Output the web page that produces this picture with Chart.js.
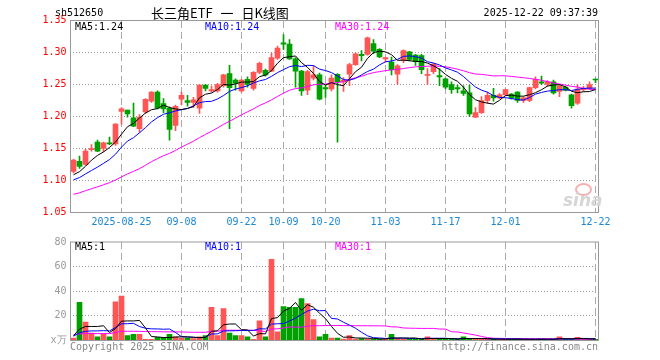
<!DOCTYPE html>
<html>
<head>
<meta charset="utf-8">
<script src="https://cdn.jsdelivr.net/npm/chart.js@4.4.1/dist/chart.umd.min.js"></script>
<style>
  body { margin: 0; background: #fff; width: 660px; height: 360px; position: relative; overflow: hidden;
         font-family: "DejaVu Sans Mono", monospace; }
  .txt { position: absolute; white-space: nowrap; font-size: 10px; line-height: 12px; }
  #priceBox { position: absolute; left: 0; top: 0; width: 660px; height: 232px; }
  #volBox { position: absolute; left: 0; top: 232px; width: 660px; height: 128px; }
</style>
</head>
<body>
<div id="priceBox"><canvas id="priceChart"></canvas></div>
<div id="volBox"><canvas id="volChart"></canvas></div>

<div class="txt" style="left:55px;top:7px;color:#000;">sh512650</div>
<div class="txt" style="left:151px;top:5px;font-size:13px;line-height:16px;word-spacing:5px;font-family:'Noto Sans CJK SC',sans-serif;color:#000;">长三角ETF 一 日K线图</div>
<div class="txt" style="right:62px;top:7px;color:#000;">2025-12-22 09:37:39</div>

<div class="txt" id="pMa5" style="left:75px;top:21px;color:#000;"></div>
<div class="txt" id="pMa10" style="left:205px;top:21px;color:#0000ff;"></div>
<div class="txt" id="pMa30" style="left:335px;top:21px;color:#ff00ff;"></div>

<div class="txt" id="vMa5" style="left:75px;top:241px;color:#000;"></div>
<div class="txt" id="vMa10" style="left:205px;top:241px;color:#0000ff;"></div>
<div class="txt" id="vMa30" style="left:335px;top:241px;color:#ff00ff;"></div>

<div style="position:absolute;left:575px;top:183px;width:13px;height:9px;border-radius:50%;border:2px solid #f3b0b0;"></div>
<div class="txt" style="left:563px;top:191px;font-size:17px;line-height:18px;font-family:'DejaVu Sans',sans-serif;font-weight:bold;font-style:italic;color:#d6d6d6;">sina</div>

<div class="txt" style="left:70px;top:341px;color:#888;">Copyright 2025 SINA.COM</div>
<div class="txt" style="right:62px;top:341px;color:#888;">http://finance.sina.com.cn</div>

<script>
// trading days shown on the chart
const dates = [
  '2025-08-13','2025-08-14','2025-08-15','2025-08-18','2025-08-19','2025-08-20','2025-08-21','2025-08-22',
  '2025-08-25','2025-08-26','2025-08-27','2025-08-28','2025-08-29',
  '2025-09-01','2025-09-02','2025-09-03','2025-09-04','2025-09-05','2025-09-08','2025-09-09','2025-09-10',
  '2025-09-11','2025-09-12','2025-09-15','2025-09-16','2025-09-17','2025-09-18','2025-09-19','2025-09-22',
  '2025-09-23','2025-09-24','2025-09-25','2025-09-26','2025-09-29','2025-09-30',
  '2025-10-09','2025-10-10','2025-10-13','2025-10-14','2025-10-15','2025-10-16','2025-10-17','2025-10-20',
  '2025-10-21','2025-10-22','2025-10-23','2025-10-24','2025-10-27','2025-10-28','2025-10-29','2025-10-30','2025-10-31',
  '2025-11-03','2025-11-04','2025-11-05','2025-11-06','2025-11-07','2025-11-10','2025-11-11','2025-11-12',
  '2025-11-13','2025-11-14','2025-11-17','2025-11-18','2025-11-19','2025-11-20','2025-11-21','2025-11-24',
  '2025-11-25','2025-11-26','2025-11-27','2025-11-28',
  '2025-12-01','2025-12-02','2025-12-03','2025-12-04','2025-12-05','2025-12-08','2025-12-09','2025-12-10',
  '2025-12-11','2025-12-12','2025-12-15','2025-12-16','2025-12-17','2025-12-18','2025-12-19','2025-12-22'
];

const tickDates = ['2025-08-25','2025-09-08','2025-09-22','2025-10-09','2025-10-20','2025-11-03','2025-11-17','2025-12-01','2025-12-22'];
const tickLabels = ['2025-08-25','09-08','09-22','10-09','10-20','11-03','11-17','12-01','12-22'];

const opens = [
  1.114,1.130,1.125,1.148,1.160,1.150,1.159,1.157,1.208,1.210,1.198,1.181,1.207,1.224,1.238,1.220,1.213,1.186,1.227,1.225,1.222,1.213,
  1.249,1.240,1.240,1.248,1.267,1.257,1.240,1.258,1.244,1.269,1.272,1.271,1.291,1.315,1.313,1.290,1.271,1.241,1.260,1.265,1.245,1.243,
  1.266,1.254,1.266,1.281,1.297,1.297,1.314,1.305,1.290,1.285,1.266,1.288,1.301,1.296,1.295,1.264,1.270,1.264,1.259,1.250,1.245,1.240,
  1.237,1.199,1.206,1.225,1.233,1.229,1.234,1.235,1.238,1.225,1.225,1.245,1.254,1.250,1.254,1.239,1.246,1.234,1.221,1.242,1.244,1.258
];
const highs = [
  1.133,1.138,1.149,1.156,1.163,1.160,1.168,1.189,1.214,1.210,1.221,1.203,1.228,1.239,1.240,1.228,1.215,1.218,1.238,1.233,1.230,1.250,
  1.250,1.248,1.252,1.266,1.280,1.259,1.258,1.262,1.270,1.285,1.274,1.299,1.310,1.328,1.320,1.292,1.272,1.272,1.279,1.268,1.249,1.265,
  1.267,1.261,1.283,1.299,1.303,1.324,1.320,1.306,1.292,1.293,1.281,1.304,1.302,1.297,1.297,1.275,1.283,1.275,1.260,1.254,1.249,1.248,
  1.249,1.214,1.231,1.238,1.244,1.236,1.243,1.236,1.239,1.231,1.246,1.262,1.263,1.256,1.257,1.249,1.247,1.235,1.250,1.247,1.254,1.259
];
const lows = [
  1.112,1.119,1.124,1.146,1.145,1.145,1.156,1.155,1.188,1.199,1.184,1.175,1.205,1.222,1.212,1.206,1.163,1.178,1.218,1.216,1.214,1.205,
  1.240,1.238,1.238,1.246,1.181,1.241,1.238,1.246,1.241,1.267,1.263,1.270,1.289,1.305,1.289,1.246,1.233,1.234,1.257,1.226,1.230,1.240,
  1.160,1.239,1.248,1.280,1.287,1.296,1.298,1.292,1.285,1.265,1.250,1.284,1.287,1.280,1.267,1.250,1.267,1.248,1.243,1.236,1.237,1.233,
  1.200,1.198,1.205,1.221,1.224,1.228,1.232,1.227,1.222,1.222,1.223,1.243,1.250,1.247,1.235,1.231,1.240,1.213,1.219,1.239,1.242,1.253
];
const closes = [
  1.132,1.122,1.146,1.150,1.146,1.159,1.157,1.188,1.212,1.204,1.185,1.199,1.227,1.238,1.213,1.212,1.180,1.216,1.233,1.222,1.226,1.249,
  1.244,1.242,1.250,1.265,1.245,1.252,1.257,1.250,1.269,1.283,1.265,1.292,1.307,1.313,1.290,1.271,1.240,1.270,1.265,1.227,1.243,1.260,
  1.254,1.257,1.281,1.298,1.295,1.323,1.302,1.293,1.292,1.273,1.279,1.303,1.289,1.286,1.273,1.266,1.282,1.262,1.246,1.242,1.243,1.236,
  1.204,1.206,1.225,1.233,1.229,1.234,1.242,1.229,1.225,1.229,1.245,1.258,1.252,1.254,1.237,1.248,1.241,1.217,1.243,1.244,1.250,1.257
];
// volume, in 10k lots
const volumes = [
  2,31,15,6,3,5,3,31.5,36,4,5,5,1,1,2.5,2.5,5,3,2,2,1.5,3,
  4,27,4,26,6,4,4,3,1,16,3,66,7,27.5,27,27,34,30,17,3,5,2,
  2,1.2,4,1.2,1.5,1.2,1.2,1.2,1.2,5,1.5,1.2,1.2,1.2,1.2,3,1.5,1.2,1.2,1.2,1.2,3,
  1.5,1.2,1,1,1.2,1,1,1,1.2,1,1,1,1.2,1,1,3,1,1,2.5,1,1,1
];
// closes and volumes of the days before the window, estimated from where the average lines start
const priorCloses = [
  1.051,1.049,1.056,1.058,1.061,1.060,1.064,1.066,1.063,1.067,1.070,1.068,1.071,1.069,1.074,
  1.076,1.075,1.080,1.082,1.084,1.086,1.090,1.095,1.094,1.100,1.098,1.104,1.102,1.109
];
const priorVolumes = [6,4,5,7,3,5,4,6,5,4,8,5,3,4,6,5,4,6,5,5,3,4,2,3,3,5,4,6,3];

const RED = '#ff5555';
const GREEN = '#00a000';

function movingAverage(series, prior, n) {
  const all = prior.concat(series);
  return series.map((_, i) => {
    const end = prior.length + i + 1;
    const win = all.slice(end - n, end);
    return win.reduce((a, b) => a + b, 0) / n;
  });
}

const candleColors = closes.map((c, i) => c >= opens[i] ? RED : GREEN);
const tickIndex = tickDates.map(d => dates.indexOf(d));

function dateTick(value, index) {
  const k = tickIndex.indexOf(index);
  return k >= 0 ? tickLabels[k] : '';
}

// dotted value lines and dashed date lines, placed with the chart's scales
const panelGrid = {
  id: 'panelGrid',
  beforeDatasetsDraw(chart) {
    const { ctx, chartArea: a, scales: { x, y } } = chart;
    ctx.save();
    ctx.lineWidth = 1;
    ctx.strokeStyle = '#999999';
    ctx.setLineDash([1, 2]);
    y.ticks.forEach(t => {
      const py = Math.floor(y.getPixelForValue(t.value)) + 0.5;
      if (py <= a.top + 1 || py >= a.bottom - 1) return;
      ctx.beginPath();
      ctx.moveTo(Math.ceil(a.left) + 2, py);
      ctx.lineTo(Math.floor(a.right), py);
      ctx.stroke();
    });
    ctx.strokeStyle = '#aaaaaa';
    ctx.setLineDash([7, 4]);
    tickIndex.forEach(i => {
      const px = Math.floor(x.getPixelForValue(i)) + 0.5;
      ctx.beginPath();
      ctx.moveTo(px, Math.ceil(a.top));
      ctx.lineTo(px, Math.floor(a.bottom));
      ctx.stroke();
    });
    ctx.restore();
  },
  afterDraw(chart) {
    const { ctx, chartArea: a } = chart;
    ctx.save();
    ctx.strokeStyle = '#999999';
    ctx.lineWidth = 1;
    ctx.strokeRect(a.left, a.top, a.right - a.left, a.bottom - a.top);
    ctx.restore();
  }
};

Chart.defaults.font.family = '"DejaVu Sans Mono", monospace';
Chart.defaults.font.size = 10;

function lineSet(data, color) {
  return { type: 'line', data: data, borderColor: color, borderWidth: 1, pointRadius: 0, tension: 0, order: 0 };
}

const pMa5 = movingAverage(closes, priorCloses, 5);
const pMa10 = movingAverage(closes, priorCloses, 10);
const pMa30 = movingAverage(closes, priorCloses, 30);
const vMa5 = movingAverage(volumes, priorVolumes, 5);
const vMa10 = movingAverage(volumes, priorVolumes, 10);
const vMa30 = movingAverage(volumes, priorVolumes, 30);

document.getElementById('pMa5').textContent = 'MA5:' + pMa5[pMa5.length - 1].toFixed(2);
document.getElementById('pMa10').textContent = 'MA10:' + pMa10[pMa10.length - 1].toFixed(2);
document.getElementById('pMa30').textContent = 'MA30:' + pMa30[pMa30.length - 1].toFixed(2);
document.getElementById('vMa5').textContent = 'MA5:' + vMa5[vMa5.length - 1].toFixed(0);
document.getElementById('vMa10').textContent = 'MA10:' + vMa10[vMa10.length - 1].toFixed(0);
document.getElementById('vMa30').textContent = 'MA30:' + vMa30[vMa30.length - 1].toFixed(0);

new Chart(document.getElementById('priceChart'), {
  type: 'bar',
  data: {
    labels: dates,
    datasets: [
      lineSet(pMa5, '#000000'),
      lineSet(pMa10, '#0000ff'),
      lineSet(pMa30, '#ff00ff'),
      {
        data: opens.map((o, i) => [o, closes[i]]),
        backgroundColor: candleColors, borderWidth: 0,
        barThickness: 5, minBarLength: 1, grouped: false, order: 2
      },
      {
        data: lows.map((l, i) => [l, highs[i]]),
        backgroundColor: candleColors, borderWidth: 0,
        barThickness: 1, grouped: false, order: 3
      }
    ]
  },
  options: {
    responsive: true,
    maintainAspectRatio: false,
    animation: false,
    events: [],
    layout: { padding: { top: 20.5, right: 61.5, left: 0, bottom: 0 } },
    plugins: { legend: { display: false }, tooltip: { enabled: false } },
    scales: {
      x: {
        offset: true,
        grid: { display: false, drawTicks: false },
        border: { display: false },
        ticks: { autoSkip: false, maxRotation: 0, padding: 4, color: '#1a86d6', callback: dateTick },
        afterFit: s => { s.height = 19.5; }
      },
      y: {
        min: 1.05,
        max: 1.35,
        grid: { display: false, drawTicks: false },
        border: { display: false },
        ticks: { stepSize: 0.05, padding: 4, color: '#ff0000', callback: v => v.toFixed(2) },
        afterFit: s => { s.width = 70.5; }
      }
    }
  },
  plugins: [panelGrid]
});

new Chart(document.getElementById('volChart'), {
  type: 'bar',
  data: {
    labels: dates,
    datasets: [
      lineSet(vMa5, '#000000'),
      lineSet(vMa10, '#0000ff'),
      lineSet(vMa30, '#ff00ff'),
      {
        data: volumes,
        backgroundColor: candleColors, borderWidth: 0,
        barThickness: 5, minBarLength: 1, order: 2
      }
    ]
  },
  options: {
    responsive: true,
    maintainAspectRatio: false,
    animation: false,
    events: [],
    layout: { padding: { top: 8.5, right: 61.5, left: 0, bottom: 0 } },
    plugins: { legend: { display: false }, tooltip: { enabled: false } },
    scales: {
      x: {
        offset: true,
        grid: { display: false, drawTicks: false },
        border: { display: false },
        ticks: { display: false, autoSkip: false },
        afterFit: s => { s.height = 19.5; }
      },
      y: {
        min: 0,
        max: 80,
        grid: { display: false, drawTicks: false },
        border: { display: false },
        ticks: { stepSize: 20, padding: 4, color: '#999999', callback: v => v === 0 ? 'x万' : v },
        afterFit: s => { s.width = 70.5; }
      }
    }
  },
  plugins: [panelGrid]
});
</script>
</body>
</html>
